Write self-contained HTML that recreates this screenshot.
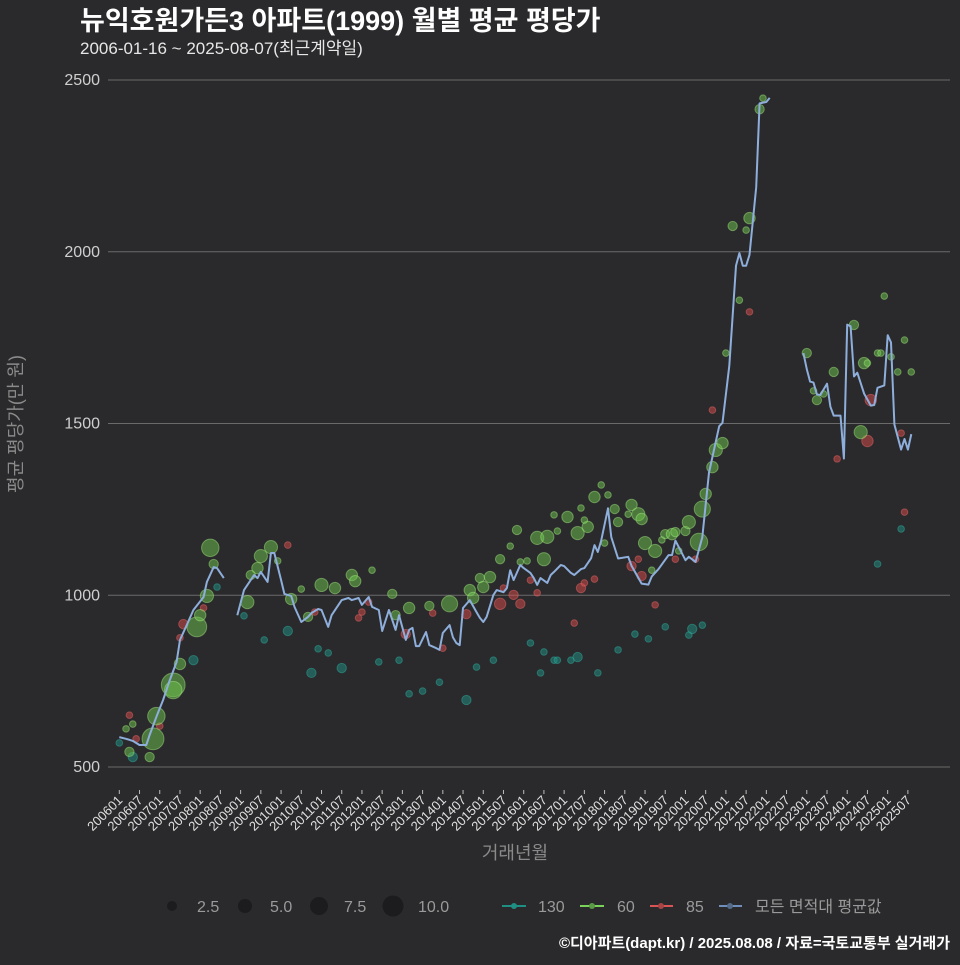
<!DOCTYPE html>
<html><head><meta charset="utf-8">
<style>
html,body{margin:0;padding:0;background:#2a2a2c;}
body{width:960px;height:960px;overflow:hidden;font-family:"Liberation Sans","Noto Sans CJK KR",sans-serif;}
svg text{font-family:"Liberation Sans","Noto Sans CJK KR",sans-serif;}
</style></head>
<body>
<svg id="chart" width="960" height="960" xmlns="http://www.w3.org/2000/svg">
<rect width="960" height="960" fill="#2a2a2c"/>
<text x="80" y="30" fill="#ffffff" font-size="27" font-weight="bold">뉴익호원가든3 아파트(1999) 월별 평균 평당가</text>
<text x="80" y="54" fill="#e6e6e6" font-size="17">2006-01-16 ~ 2025-08-07(최근계약일)</text>
<g id="grid"></g>
<g id="yticks"></g>
<g id="xticks"></g>
<g id="points"></g>
<g id="avgline"></g>
<text transform="translate(22,424) rotate(-90)" text-anchor="middle" fill="#8a8a8a" font-size="18">평균 평당가(만 원)</text>
<text x="515" y="859" text-anchor="middle" fill="#8a8a8a" font-size="18">거래년월</text>
<g>
<circle cx="172" cy="906" r="5" fill="#1c1c1e"/>
<text x="197" y="912" fill="#9a9a9a" font-size="16">2.5</text>
<circle cx="245" cy="906" r="7" fill="#1c1c1e"/>
<text x="270" y="912" fill="#9a9a9a" font-size="16">5.0</text>
<circle cx="319" cy="906" r="9" fill="#1c1c1e"/>
<text x="344" y="912" fill="#9a9a9a" font-size="16">7.5</text>
<circle cx="393" cy="906" r="10.5" fill="#1c1c1e"/>
<text x="418" y="912" fill="#9a9a9a" font-size="16">10.0</text>
</g>
<g>
<line x1="502" y1="906" x2="526" y2="906" stroke="#1f8f84" stroke-width="2"/>
<circle cx="514" cy="906" r="3" fill="#1f8f84"/>
<text x="538" y="912" fill="#9a9a9a" font-size="16">130</text>
<line x1="580" y1="906" x2="604" y2="906" stroke="#79d35a" stroke-width="2"/>
<circle cx="592" cy="906" r="3" fill="#5a9a44"/>
<text x="617" y="912" fill="#9a9a9a" font-size="16">60</text>
<line x1="650" y1="906" x2="673" y2="906" stroke="#d95555" stroke-width="2"/>
<circle cx="661" cy="906" r="3" fill="#a84444"/>
<text x="686" y="912" fill="#9a9a9a" font-size="16">85</text>
<line x1="719" y1="906" x2="742" y2="906" stroke="#6f8fba" stroke-width="2"/>
<circle cx="730" cy="906" r="3" fill="#556b8a"/>
<text x="755" y="912" fill="#9a9a9a" font-size="16">모든 면적대 평균값</text>
</g>
<text x="950" y="948" text-anchor="end" fill="#ffffff" font-size="15" font-weight="bold">©디아파트(dapt.kr) / 2025.08.08 / 자료=국토교통부 실거래가</text>
</svg>
<script>
const yTicks = [500, 1000, 1500, 2000, 2500];
const xTickLabels = ["200601","200607","200701","200707","200801","200807","200901","200907","201001","201007","201101","201107","201201","201207","201301","201307","201401","201407","201501","201507","201601","201607","201701","201707","201801","201807","201901","201907","202001","202007","202101","202107","202201","202207","202301","202307","202401","202407","202501","202507"];
// average line: months since 2006-01; null value = gap
const lineMonths = [0,2,4,6,8,9,11,13,15,17,18,20,22,25,26,28,29,31,32,
35,37,40,41,42,44,45,46,48,49,51,52,54,56,57,59,60,62,63,66,68,69,71,72,74,75,77,78,80,81,82,83,85,86,87,88,89,91,92,94,95,96,98,99,100,101,102,104,106,107,108,109,111,112,114,115,116,117,119,120,122,123,124,125,127,128,129,131,132,134,135,137,138,140,141,142,
143,145,146,148,151,152,155,157,158,160,163,164,165,168,169,171,173,175,178,179,181,183,184,185,186,187,189,190,192,193,194,
203,204,205,206,207,208,210,211,212,214,215,216,217,218,219,221,223,224,225,227,228,229,230,232,233,234,235];
const lineValues = [587,582,576,564,564,593,646,695,753,806,870,913,957,995,1039,1082,1079,1050,null,
942,1015,1059,1050,1068,1039,1123,1123,1044,1004,998,966,922,937,948,960,957,908,942,986,992,986,992,972,995,966,957,896,957,928,899,942,870,899,905,852,852,893,855,846,841,890,913,878,861,855,963,986,951,934,922,937,1001,1015,1009,1021,1073,1044,1088,1079,1065,1050,1030,1050,1036,1059,1068,1088,1085,1065,1059,1076,1079,1108,1146,1126,
1159,1253,1169,1107,1112,1086,1034,1031,1055,1076,1117,1117,1159,1102,1112,1097,1169,1357,1492,1502,1668,1959,1996,1959,1959,1991,2188,2432,2436,2448,null,
1705,1658,1622,1619,1585,1583,1616,1549,1523,1523,1398,1788,1783,1637,1648,1587,1552,1554,1604,1611,1757,1736,1497,1424,1455,1424,1469];
// 60 area
const g60Months = [2,4,3,9,10,11,16,16,18,23,24,26,28,27,38,39,41,42,45,47,51,54,56,60,64,69,70,75,81,82,86,92,98,104,105,107,110,108,113,118,124,127,126,133,136,139,141,147,143,129,116,119,121,130,137,145,138,144,148,152,154,155,151,156,159,161,162,164,165,168,169,172,173,174,176,177,179,158,166,180,182,187,186,184,190,191,204,212,221,222,206,207,209,218,225,226,229,227,231,233,235,220];
const g60Values = [611,625,544,529,582,648,739,724,800,908,942,998,1091,1138,980,1059,1079,1114,1140,1100,989,1018,937,1030,1021,1059,1041,1073,1004,942,963,969,975,1015,992,1050,1053,1024,1105,1190,1167,1170,1105,1228,1181,1199,1286,1251,1321,1234,1143,1097,1100,1187,1254,1292,1219,1152,1213,1263,1236,1222,1236,1152,1129,1161,1178,1178,1184,1187,1213,1155,1251,1295,1373,1423,1443,1073,1129,1705,2075,2098,2063,1859,2415,2447,1705,1650,1676,1676,1595,1568,1586,1787,1705,1705,1694,1871,1650,1743,1650,1475];
const g60Counts = [1,1,2,2,11,7,13,7,3,9,3,4,2,7,4,2,3,4,4,1,3,1,2,4,3,3,3,1,2,2,3,2,6,3,3,2,3,3,2,2,4,4,4,3,4,3,3,2,1,1,1,1,1,1,1,1,1,1,2,3,4,3,1,4,4,1,2,3,2,2,4,7,6,3,3,4,3,1,1,1,2,3,1,1,2,1,2,2,3,1,1,2,1,2,1,1,1,1,1,1,1,4];
// 85 area
const r85Months = [3,5,12,19,18,25,50,58,71,72,74,85,93,96,103,113,117,119,114,122,124,137,138,141,135,223,222,213,232,233,187,176,152,155,154,159,165,171];
const r85Values = [651,582,619,916,876,963,1146,951,934,951,980,887,948,846,945,975,1001,975,1021,1044,1007,1021,1036,1047,919,1568,1449,1397,1472,1242,1825,1539,1085,1056,1105,972,1105,1105];
const r85Counts = [1,1,1,2,1,1,1,1,1,1,1,2,1,1,2,3,2,2,1,1,1,2,1,1,1,3,3,1,1,1,1,1,2,2,1,1,1,1];
// 130 area
const t130Months = [0,4,22,29,37,43,50,59,62,57,66,77,83,95,90,86,103,106,111,122,126,125,129,130,134,136,142,148,232,225,153,157,162,169,170,173];
const t130Values = [570,529,811,1024,940,870,896,844,832,774,788,806,811,747,721,713,695,791,811,861,835,774,811,811,811,820,774,841,1193,1091,887,873,908,884,902,913];
const t130Counts = [1,2,2,1,1,1,2,1,1,2,2,1,1,1,1,1,2,1,1,1,1,1,1,1,1,2,1,1,1,1,1,1,1,1,2,1];

const NS = "http://www.w3.org/2000/svg";
const X0 = 119.3, XSTEP = 3.37, PLOT_L = 108, PLOT_R = 950;
function xScale(m){ return X0 + m * XSTEP; }
function yScale(v){ return 767 - (v - 500) * 0.3435; }
function rScale(n){ return 3.3 * Math.sqrt(n); }
function mk(tag, attrs, parent){ const e = document.createElementNS(NS, tag); for (const k in attrs) e.setAttribute(k, attrs[k]); parent.appendChild(e); return e; }

const grid = document.getElementById('grid');
const yt = document.getElementById('yticks');
yTicks.forEach(v => {
  const ln = mk('line', {x1: PLOT_L, x2: PLOT_R, y1: yScale(v), y2: yScale(v), stroke: '#6a6a6a', 'stroke-width': 1}, grid);
  
  
  const t = mk('text', {x: 100, y: yScale(v) + 5, 'text-anchor': 'end', fill: '#cfcfcf', 'font-size': 16}, yt);
  t.textContent = v;
  
  
});
const xt = document.getElementById('xticks');
xTickLabels.forEach((lab, i) => {
  const x = xScale(i * 6);
  const tk = mk('line', {x1: x, x2: x, y1: 790, y2: 794, stroke: '#bbbbbb', 'stroke-width': 1}, xt);
  
  
  const t = mk('text', {transform: 'translate(' + (x + 4) + ',801) rotate(-45)', 'text-anchor': 'end', fill: '#e0e0e0', 'font-size': 13}, xt);
  t.textContent = lab;
  
  
});

const pts = document.getElementById('points');
function drawSeries(months, values, counts, fill, stroke, name){
  months.forEach((m, i) => {
    const c = mk('circle', {cx: xScale(m), cy: yScale(values[i]), r: rScale(counts[i]), fill: fill, 'fill-opacity': 0.5, stroke: stroke, 'stroke-opacity': 0.45, 'stroke-width': 1}, pts);
    
    
  });
}
drawSeries(t130Months, t130Values, t130Counts, '#1f8f84', '#2fb3a5', 'point-130');
drawSeries(r85Months, r85Values, r85Counts, '#d94a4a', '#f06a6a', 'point-85');
drawSeries(g60Months, g60Values, g60Counts, '#6fc64e', '#a6ee86', 'point-60');

const lg = document.getElementById('avgline');
let d = '', pen = false;
lineMonths.forEach((m, i) => {
  const v = lineValues[i];
  if (v === null) { pen = false; return; }
  d += (pen ? 'L' : 'M') + xScale(m).toFixed(1) + ',' + yScale(v).toFixed(1);
  pen = true;
});
const p = mk('path', {d: d, fill: 'none', stroke: '#8eaedb', 'stroke-width': 2, 'stroke-linejoin': 'round'}, lg);


</script>
</body></html>
